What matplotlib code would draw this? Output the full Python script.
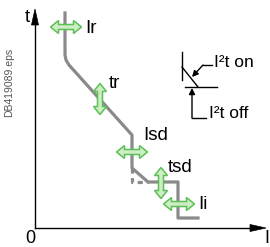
import numpy as np
import matplotlib
matplotlib.use("Agg")
import matplotlib.pyplot as plt
from matplotlib.patches import Polygon, FancyArrowPatch

plt.rcParams['font.family'] = ['Liberation Sans Narrow', 'Liberation Sans', 'DejaVu Sans']

# tripping curve (I along x, t along y), origin at the axes corner
curve_I = [30, 30, 31, 34, 97, 97, 113, 143, 143, 163]
curve_t = [215, 173, 168, 163, 93, 60, 46, 46, 10, 10]
# I2t off branch (dashed)
off_I = [97, 97, 113]
off_t = [60, 46, 46]

# setting handles: name, centre I, centre t, orientation
handles = ['Ir', 'tr', 'Isd', 'tsd', 'Ii']
handle_I = [31, 65, 97, 126, 144]
handle_t = [201, 129, 76, 45, 24]
handle_dir = ['h', 'v', 'h', 'v', 'h']
label_I = [50, 74, 108, 133, 163]
label_t = [195, 140, 88, 56, 19]

GREY = '#8a8a8a'
FILL = '#cdeec5'
EDGE = '#5fbf57'


def double_arrow(ax, cx, cy, kind, L=31, h=8, hw=6.5, sw=2.5):
    a, b = L / 2.0, L / 2.0 - h
    pts = [(-a, 0), (-b, hw), (-b, sw), (b, sw), (b, hw), (a, 0),
           (b, -hw), (b, -sw), (-b, -sw), (-b, -hw)]
    if kind == 'v':
        pts = [(y, x) for x, y in pts]
    pts = [(cx + x, cy + y) for x, y in pts]
    ax.add_patch(Polygon(pts, closed=True, fc=FILL, ec=EDGE, lw=1.1, zorder=5))


fig = plt.figure(figsize=(2.7, 2.47), dpi=100)
ax = fig.add_axes([0, 0, 1, 1])
ax.set_xlim(-35, 235)
ax.set_ylim(-19, 228)
ax.axis('off')

# axes with arrow heads
ax.plot([0, 0], [0, 205], color='black', lw=1)
ax.plot([0, 218], [0, 0], color='black', lw=1)
ax.add_patch(Polygon([(0, 219), (-3.5, 203), (3.5, 203)], closed=True, fc='black', ec='black', lw=0.5))
ax.add_patch(Polygon([(231, 0), (215, 3.5), (215, -3.5)], closed=True, fc='black', ec='black', lw=0.5))
ax.text(-8, 206, 't', fontsize=13.5, ha='center', va='baseline')
ax.text(229, -14.5, 'I', fontsize=13, ha='left', va='baseline')
ax.text(-5, -14.5, '0', fontsize=13, ha='center', va='baseline')
ax.text(-26, 180, 'DB419089.eps', fontsize=7.5, color='#555555', rotation=90,
        ha='center', va='top')

# curve
ax.plot(off_I, off_t, color=GREY, lw=2.3, ls=(0, (1.6, 1.4)), solid_capstyle='butt', zorder=3)
ax.plot(curve_I, curve_t, color=GREY, lw=2.3, solid_joinstyle='round', zorder=4)

for name, x, y, d, lx, ly in zip(handles, handle_I, handle_t, handle_dir, label_I, label_t):
    double_arrow(ax, x, y, d)
    ax.text(lx, ly, name, fontsize=13.5, ha='left', va='baseline', zorder=6)

# I2t on / off symbol
ax.plot([147, 147], [176, 148], color='black', lw=1)
ax.plot([147, 163], [161, 141], color='black', lw=1)
ax.plot([150, 182], [141, 141], color='black', lw=1)
ax.plot([177, 168], [163, 163], color='black', lw=1)
ax.add_patch(FancyArrowPatch((168, 163), (157, 151), arrowstyle='-|>', mutation_scale=9,
                             color='black', lw=1, shrinkA=0, shrinkB=0))
ax.plot([171, 157], [110, 110], color='black', lw=1)
ax.add_patch(FancyArrowPatch((157, 110), (157, 140), arrowstyle='-|>', mutation_scale=9,
                             color='black', lw=1, shrinkA=0, shrinkB=0))
ax.text(179, 161, 'I²t on', fontsize=12.5, ha='left', va='baseline')
ax.text(174, 110, 'I²t off', fontsize=12.5, ha='left', va='baseline')

fig.savefig('out.png', dpi=100)
